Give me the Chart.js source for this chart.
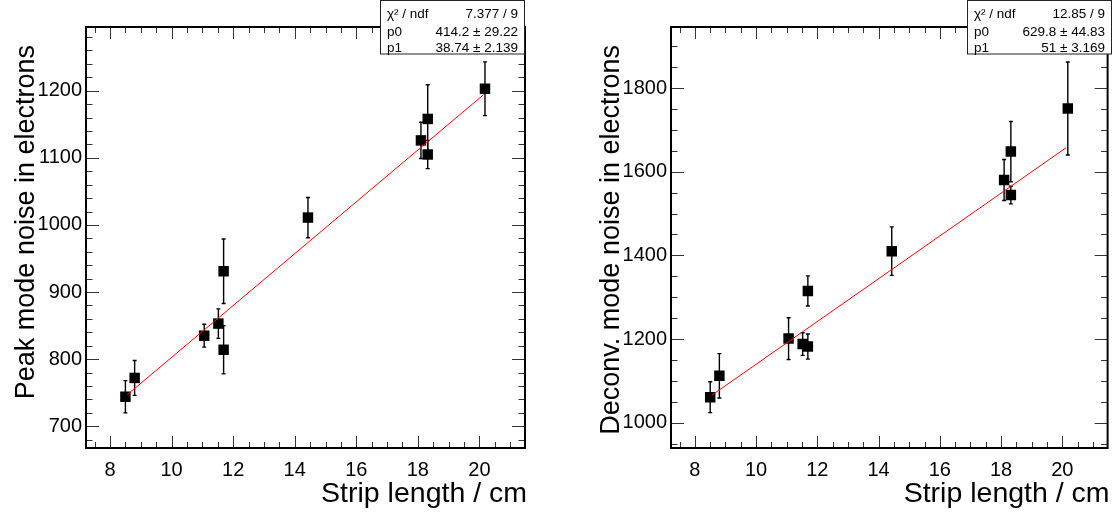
<!DOCTYPE html>
<html lang="en">
<head>
  <meta charset="UTF-8">
  <title>Strip noise vs strip length</title>
  <style>
    body { margin: 0; background: #fff; }
    .panel { position: absolute; top: 0; }
  </style>
  <script src="https://cdn.jsdelivr.net/npm/chart.js"></script>
</head>
<body>
  <canvas id="peakChart" class="panel" width="557" height="514" style="left: 0;"></canvas>
  <canvas id="deconvChart" class="panel" width="558" height="514" style="left: 557px;"></canvas>

  <script>
    // measured points (strip length in cm, noise in electrons)
    const stripLength = [8.5, 8.8, 11.06, 11.52, 11.69, 11.69, 14.43, 18.1, 18.32, 18.32, 20.18];
    const peakNoise = [744, 772, 835, 853, 931, 814, 1011, 1126, 1158, 1105, 1203];
    const peakError = [24, 26, 17, 22, 48, 36, 30, 27, 51, 21, 40];
    const deconvNoise = [1061, 1112, 1201, 1188, 1315, 1182, 1410, 1580, 1648, 1544, 1751];
    const deconvError = [37, 53, 50, 27, 36, 30, 58, 49, 72, 21, 111];

    // straight-line fits, end points
    const peakFitX = [8.56, 20.13];
    const peakFitY = [747, 1194];
    const deconvFitX = [8.56, 20.12];
    const deconvFitY = [1066, 1657];

    const xTickValues = [8, 10, 12, 14, 16, 18, 20];
    const peakTickValues = [700, 800, 900, 1000, 1100, 1200];
    const deconvTickValues = [1000, 1200, 1400, 1600, 1800];

    const peakStats = [['χ² / ndf', '7.377 / 9'], ['p0', '414.2 ± 29.22'], ['p1', '38.74 ± 2.139']];
    const deconvStats = [['χ² / ndf', '12.85 / 9'], ['p0', '629.8 ± 44.83'], ['p1', '51 ± 3.169']];

    const FONT = '"Liberation Sans", Arial, Helvetica, sans-serif';

    // ROOT-like frame: error bars, inner ticks on four sides, stats box, axis titles
    function rootFrame(s) {
      return {
        id: 'rootFrame',
        beforeDatasetsDraw(chart) {
          const ctx = chart.ctx, x = chart.scales.x, y = chart.scales.y;
          ctx.save();
          ctx.strokeStyle = '#000';
          ctx.lineWidth = 1.4;
          s.xs.forEach((xv, i) => {
            const px = x.getPixelForValue(xv);
            const top = y.getPixelForValue(s.ys[i] + s.errs[i]);
            const bot = y.getPixelForValue(s.ys[i] - s.errs[i]);
            ctx.beginPath();
            ctx.moveTo(px, top); ctx.lineTo(px, bot);
            ctx.moveTo(px - 2, top); ctx.lineTo(px + 2, top);
            ctx.moveTo(px - 2, bot); ctx.lineTo(px + 2, bot);
            ctx.stroke();
          });
          ctx.restore();
        },
        afterDraw(chart) {
          const ctx = chart.ctx, a = chart.chartArea, x = chart.scales.x, y = chart.scales.y;
          ctx.save();

          // ticks
          ctx.strokeStyle = '#333';
          ctx.lineWidth = 1;
          function xTicks(step, len) {
            for (let k = Math.ceil(x.min / step); k * step <= x.max; k++) {
              const px = Math.round(x.getPixelForValue(k * step)) + 0.5;
              ctx.beginPath();
              ctx.moveTo(px, a.bottom); ctx.lineTo(px, a.bottom - len);
              ctx.moveTo(px, a.top); ctx.lineTo(px, a.top + len);
              ctx.stroke();
            }
          }
          function yTicks(step, len) {
            for (let k = Math.ceil(y.min / step); k * step <= y.max; k++) {
              const py = Math.round(y.getPixelForValue(k * step)) + 0.5;
              ctx.beginPath();
              ctx.moveTo(a.left, py); ctx.lineTo(a.left + len, py);
              ctx.moveTo(a.right, py); ctx.lineTo(a.right - len, py);
              ctx.stroke();
            }
          }
          xTicks(0.5, 6);
          xTicks(2, 12);
          yTicks(s.yMinor, 6.5);
          yTicks(s.yMajor, 13);

          // frame
          ctx.strokeStyle = '#000';
          ctx.lineWidth = 2;
          ctx.strokeRect(a.left, a.top, a.right - a.left, a.bottom - a.top);

          // stats box
          const bx = s.box[0], bw = s.box[1];
          ctx.fillStyle = '#fff';
          ctx.fillRect(bx, 0, bw, 54);
          ctx.strokeStyle = '#222';
          ctx.lineWidth = 1;
          ctx.strokeRect(bx + 0.5, 0.5, bw - 1, 53.5);
          ctx.fillStyle = '#000';
          ctx.font = '13.5px ' + FONT;
          const rowBase = [18, 36, 51.5];
          s.stats.forEach((row, i) => {
            ctx.textAlign = 'left';
            ctx.fillText(row[0], bx + 7, rowBase[i]);
            ctx.textAlign = 'right';
            ctx.fillText(row[1], bx + bw - 7, rowBase[i]);
          });

          // axis titles
          ctx.font = '28.5px ' + FONT;
          ctx.textAlign = 'right';
          ctx.textBaseline = 'alphabetic';
          ctx.fillText('Strip length / cm', a.right + 2, 502);

          ctx.font = '27px ' + FONT;
          ctx.translate(a.left - 52.5, 45);
          ctx.rotate(-Math.PI / 2);
          ctx.textAlign = 'right';
          ctx.fillText(s.yTitle, 0, 0);
          ctx.restore();
        }
      };
    }

    function makeChart(id, o) {
      const tickFont = { family: FONT, size: 20 };
      return new Chart(document.getElementById(id), {
        type: 'scatter',
        data: {
          datasets: [
            {
              data: o.fitX.map((v, i) => ({ x: v, y: o.fitY[i] })),
              showLine: true,
              borderColor: '#ff0000',
              borderWidth: 1,
              pointRadius: 0
            },
            {
              data: stripLength.map((v, i) => ({ x: v, y: o.ys[i] })),
              pointStyle: 'rect',
              pointRadius: 7.4,
              backgroundColor: '#000',
              borderColor: '#000',
              borderWidth: 0
            }
          ]
        },
        options: {
          responsive: false,
          devicePixelRatio: 1,
          animation: false,
          events: [],
          layout: { padding: { top: 27, right: o.padRight, left: 0, bottom: 0 } },
          plugins: { legend: { display: false }, tooltip: { enabled: false } },
          scales: {
            x: {
              type: 'linear',
              min: 7.22,
              max: 21.48,
              afterBuildTicks: s => { s.ticks = xTickValues.map(v => ({ value: v })); },
              afterFit: s => { s.height = 66; },
              grid: { display: false, drawTicks: false },
              border: { display: false },
              ticks: { font: tickFont, color: '#000', padding: 10, maxRotation: 0, callback: v => String(v) }
            },
            y: {
              type: 'linear',
              min: o.yMin,
              max: o.yMax,
              afterBuildTicks: s => { s.ticks = o.yTicks.map(v => ({ value: v })); },
              afterFit: s => { s.width = o.yWidth; },
              grid: { display: false, drawTicks: false },
              border: { display: false },
              ticks: { font: tickFont, color: '#000', padding: 4, callback: v => String(v) }
            }
          }
        },
        plugins: [rootFrame({
          xs: stripLength, ys: o.ys, errs: o.errs,
          yMajor: o.yMajor, yMinor: o.yMinor,
          stats: o.stats, box: o.box, yTitle: o.yTitle
        })]
      });
    }

    makeChart('peakChart', {
      ys: peakNoise, errs: peakError, fitX: peakFitX, fitY: peakFitY,
      yMin: 667.6, yMax: 1295, yTicks: peakTickValues, yMajor: 100, yMinor: 20,
      yWidth: 86, padRight: 32, box: [380, 145], stats: peakStats,
      yTitle: 'Peak mode noise in electrons'
    });

    makeChart('deconvChart', {
      ys: deconvNoise, errs: deconvError, fitX: deconvFitX, fitY: deconvFitY,
      yMin: 939.5, yMax: 1945.8, yTicks: deconvTickValues, yMajor: 200, yMinor: 50,
      yWidth: 114, padRight: 5, box: [410, 145], stats: deconvStats,
      yTitle: 'Deconv. mode noise in electrons'
    });
  </script>
</body>
</html>
